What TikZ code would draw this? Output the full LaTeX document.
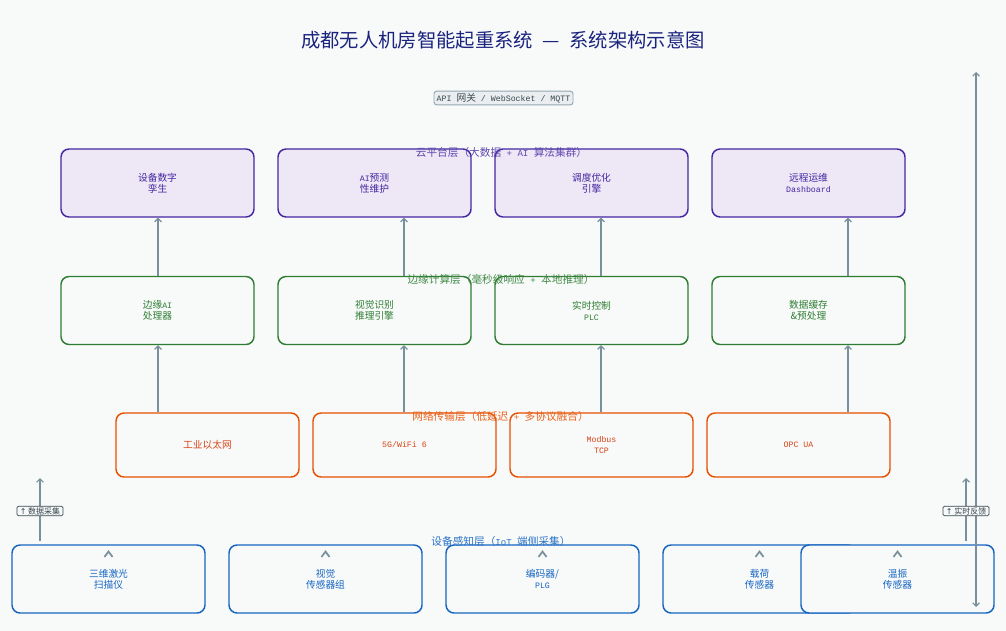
\documentclass[tikz,border=0pt]{standalone}
\usepackage{fontspec}
\setmainfont{Noto Sans CJK SC}
\newfontfamily\monofam[Scale=0.85]{Liberation Mono}
\newfontfamily\symfam{DejaVu Sans}
\usepackage{tikz}
\usetikzlibrary{positioning, calc, arrows.meta}
\usepackage{xcolor}
\definecolor{bgpaper}{HTML}{F8FAFA}
\definecolor{cloudline}{HTML}{4527A0}
\definecolor{cloudfill}{HTML}{EDE7F6}
\definecolor{edgeline}{HTML}{2E7D32}
\definecolor{netline}{HTML}{E65100}
\definecolor{nettext}{HTML}{D84315}
\definecolor{devline}{HTML}{1565C0}
\definecolor{arrowgray}{HTML}{78909C}
\definecolor{titleblue}{HTML}{1A237E}
\definecolor{tagline}{HTML}{37474F}
\newcommand{\en}[1]{{\monofam #1}}
\newcommand{\up}{{\symfam ↑}}

\tikzset{
    box/.style={rounded corners=6pt, line width=1.1pt, align=center, inner sep=0pt,
        minimum width=144.75pt, minimum height=51pt, fill=bgpaper,
        font=\fontsize{7.3}{8.3}\selectfont},
    cloudbox/.style={box, draw=cloudline, fill=cloudfill, text=cloudline},
    edgebox/.style={box, draw=edgeline, text=edgeline},
    netbox/.style={box, draw=netline, text=nettext, minimum width=137.25pt, minimum height=48pt},
    devbox/.style={box, draw=devline, text=devline},
    layerlabel/.style={font=\fontsize{8}{9}\selectfont, inner sep=0pt},
    sidetag/.style={draw=tagline, fill=bgpaper, text=tagline, rounded corners=1pt, line width=0.6pt,
        inner xsep=2pt, inner ysep=0.8pt, font=\fontsize{6}{6.5}\selectfont},
    arr/.style={draw=arrowgray, line width=0.9pt, -{Straight Barb[length=2.5pt, width=5pt]}},
    chevron/.style={draw=arrowgray, line width=1.3pt},
}

\begin{document}
\begin{tikzpicture}[x=0.75pt, y=-0.75pt]
    % Background and size
    \fill[bgpaper] (0,0) rectangle (1006,631);
    \useasboundingbox (0,0) rectangle (1006,631);

    % Title
    \node[text=titleblue, font=\fontsize{14.5}{17}\selectfont] (title) at (503,40)
        {成都无人机房智能起重系统\enspace —\enspace 系统架构示意图};
    \node[draw=arrowgray!80, fill=arrowgray!15, rounded corners=2pt, line width=0.7pt, text=tagline,
        inner xsep=2pt, inner ysep=1.5pt, font=\fontsize{7.3}{8}\selectfont] (api) at (503.5,98)
        {\en{API\ }网关\en{\ / WebSocket / MQTT}};

    % Cloud layer
    \node[cloudbox] (cloudA) at (157.5,183) {设备数字\\孪生};
    \node[cloudbox] (cloudB) at (374.5,183) {\en{AI}预测\\性维护};
    \node[cloudbox] (cloudC) at (591.5,183) {调度优化\\引擎};
    \node[cloudbox] (cloudD) at (808.5,183) {远程运维\\\en{Dashboard}};
    \node[layerlabel, text=cloudline!85] (cloudLbl) at (501.5,152) {云平台层（大数据\en{\ + AI\ }算法集群）};

    % Edge layer
    \node[edgebox] (edgeA) at (157.5,310.5) {边缘\en{AI}\\处理器};
    \node[edgebox] (edgeB) at (374.5,310.5) {视觉识别\\推理引擎};
    \node[edgebox] (edgeC) at (591.5,310.5) {实时控制\\\en{PLC}};
    \node[edgebox] (edgeD) at (808.5,310.5) {数据缓存\\\&预处理};
    \node[layerlabel, text=edgeline!90] (edgeLbl) at (501,279) {边缘计算层（毫秒级响应\en{\ +\ }本地推理）};

    % Network layer
    \node[netbox] (netA) at (207.5,445) {工业以太网};
    \node[netbox] (netB) at (404.5,445) {\en{5G/WiFi 6}};
    \node[netbox] (netC) at (601.5,445) {\en{Modbus}\\\en{TCP}};
    \node[netbox] (netD) at (798.5,445) {\en{OPC UA}};
    \node[layerlabel, text=netline!90] (netLbl) at (500.5,416) {网络传输层（低延迟\en{\ +\ }多协议融合）};

    % Upward links between layers
    \coordinate (colA) at (158,0);
    \coordinate (colB) at (404,0);
    \coordinate (colC) at (601,0);
    \coordinate (colD) at (848,0);
    \draw[arr] (edgeA.north -| colA) -- (cloudA.south -| colA);
    \draw[arr] (edgeB.north -| colB) -- (cloudB.south -| colB);
    \draw[arr] (edgeC.north -| colC) -- (cloudC.south -| colC);
    \draw[arr] (edgeD.north -| colD) -- (cloudD.south -| colD);
    \draw[arr] (netA.north -| colA) -- (edgeA.south -| colA);
    \draw[arr] (netB.north -| colB) -- (edgeB.south -| colB);
    \draw[arr] (netC.north -| colC) -- (edgeC.south -| colC);
    \draw[arr] (netD.north -| colD) -- (edgeD.south -| colD);

    % Device layer
    \node[devbox] (devA) at (108.5,579) {三维激光\\扫描仪};
    \node[devbox] (devB) at (325.5,579) {视觉\\传感器组};
    \node[devbox] (devC) at (542.5,579) {编码器/\\\en{PLG}};
    \node[devbox] (devD) at (759.5,579) {载荷\\传感器};
    \node[devbox] (devE) at (897.5,579) {温振\\传感器};
    \node[layerlabel, text=devline!90] (devLbl) at (501,541) {设备感知层（\en{IoT\ }端侧采集）};
    \draw[chevron] ([xshift=-3pt, yshift=-9.5pt]devA.north) -- ([yshift=-5.5pt]devA.north) -- ([xshift=3pt, yshift=-9.5pt]devA.north);
    \draw[chevron] ([xshift=-3pt, yshift=-9.5pt]devB.north) -- ([yshift=-5.5pt]devB.north) -- ([xshift=3pt, yshift=-9.5pt]devB.north);
    \draw[chevron] ([xshift=-3pt, yshift=-9.5pt]devC.north) -- ([yshift=-5.5pt]devC.north) -- ([xshift=3pt, yshift=-9.5pt]devC.north);
    \draw[chevron] ([xshift=-3pt, yshift=-9.5pt]devD.north) -- ([yshift=-5.5pt]devD.north) -- ([xshift=3pt, yshift=-9.5pt]devD.north);
    \draw[chevron] ([xshift=-3pt, yshift=-9.5pt]devE.north) -- ([yshift=-5.5pt]devE.north) -- ([xshift=3pt, yshift=-9.5pt]devE.north);

    % Side flows
    \coordinate (collectTop) at (40,478);
    \coordinate (feedTop) at (966,478);
    \coordinate (loopTop) at (976,72);
    \coordinate (loopBot) at (976,607);
    \draw[arr] ([yshift=2.25pt]devA.north -| collectTop) -- (collectTop);
    \draw[arr] ([yshift=2.25pt]devE.north -| feedTop) -- (feedTop);
    \draw[arr, {Straight Barb[length=2.5pt, width=5pt]}-{Straight Barb[length=2.5pt, width=5pt]}] (loopBot) -- (loopTop);
    \node[sidetag] (collectTag) at (40,511) {\up\ 数据采集};
    \node[sidetag] (feedTag) at (966,511) {\up\ 实时反馈};
\end{tikzpicture}
\end{document}
